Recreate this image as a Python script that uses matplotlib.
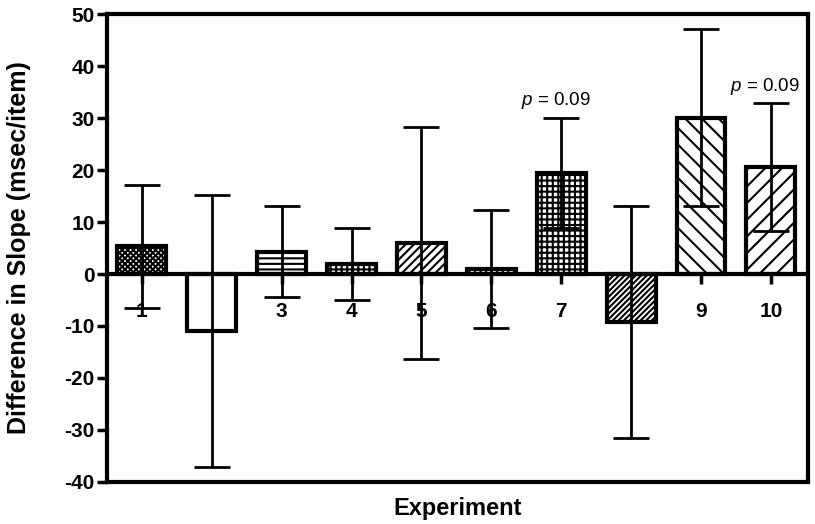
import matplotlib.pyplot as plt

plt.rcParams['font.family'] = ['Liberation Sans', 'DejaVu Sans']
plt.rcParams['axes.unicode_minus'] = False
plt.rcParams['hatch.linewidth'] = 1.5
plt.rcParams['mathtext.fontset'] = 'custom'
plt.rcParams['mathtext.it'] = 'Liberation Sans:italic'
plt.rcParams['mathtext.rm'] = 'Liberation Sans'

experimente = [1, 2, 3, 4, 5, 6, 7, 8, 9, 10]
etichette = ['1', '2', '3', '4', '5', '6', '7', '8', '9', '10']
valori = [5.3, -11.0, 4.3, 1.9, 5.9, 1.0, 19.4, -9.3, 30.1, 20.5]
errori = [11.9, 26.1, 8.7, 6.9, 22.3, 11.3, 10.6, 22.3, 17.1, 12.3]
tratteggi = ['xxxxxx', '', '---', '+++', '////', '+++', '+++', '//////', '\\\\', '//']
p_barre = [7, 10]
p_altezze = [32.5, 35.2]

fig = plt.figure(figsize=(8.15, 5.24), dpi=100)
ax = fig.add_axes([0.1313, 0.0802, 0.860, 0.893])

for x, v, h in zip(experimente, valori, tratteggi):
    ax.bar(x, v, width=0.7, color='white', edgecolor='black', linewidth=3, hatch=h, zorder=2)
ax.errorbar(experimente, valori, yerr=errori, fmt='none', ecolor='black',
            elinewidth=2, capsize=13, capthick=2, zorder=3)

ax.axhline(0, color='black', linewidth=3, zorder=4)

# p-value notes above bars 7 and 10
for x, y in zip(p_barre, p_altezze):
    ax.text(x - 0.08, y, r'$p$ = 0.09', ha='center', va='baseline', fontsize=13.5)

ax.set_xlim(0.5, 10.53)
ax.set_ylim(-40, 50)
ax.set_yticks(range(-40, 51, 10))
ax.tick_params(axis='y', length=7, width=2.5, labelsize=15, pad=2)
for t in ax.get_yticklabels():
    t.set_fontweight('bold')
ax.set_xticks([])
for s in ax.spines.values():
    s.set_linewidth(3)

# experiment numbers sit on the zero line
sec = ax.secondary_xaxis(40 / 90)
sec.set_xticks(experimente)
sec.set_xticklabels(etichette, fontsize=15, fontweight='bold')
sec.tick_params(axis='x', length=7, width=2.5, pad=13)
sec.spines['bottom'].set_visible(False)

ax.set_xlabel('Experiment', fontsize=17, fontweight='bold', labelpad=11)
ax.set_ylabel('Difference in Slope (msec/item)', fontsize=18, fontweight='bold', labelpad=24)

fig.savefig('out.png', dpi=100)
